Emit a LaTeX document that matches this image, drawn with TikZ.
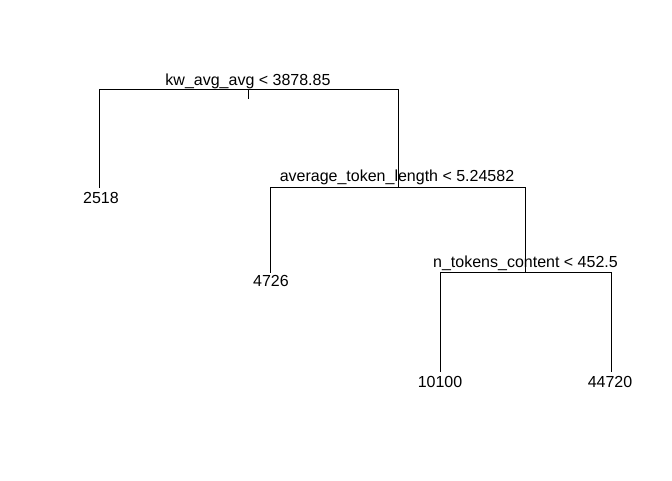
\documentclass[tikz,border=0pt]{standalone}
\usepackage{fontspec}
\setmainfont{Liberation Sans}
\begin{document}
\begin{tikzpicture}[x=0.75pt,y=-0.75pt,
  edge/.style={line width=0.75pt,line cap=rect},
  lab/.style={font=\fontsize{12}{14}\selectfont,anchor=base,inner sep=0pt}]
\useasboundingbox (0,0) rectangle (672,480);
% split points
\coordinate (r) at (248,89);
\coordinate (rtop) at (248,98);
\coordinate (rl) at (99,89);
\coordinate (rr) at (398,89);
\coordinate (a) at (398,187);
\coordinate (al) at (270,187);
\coordinate (ar) at (525,187);
\coordinate (b) at (525,272);
\coordinate (bl) at (440,272);
\coordinate (br) at (611,272);
\coordinate (l1) at (99,187);
\coordinate (l2) at (270,272);
\coordinate (l3) at (440,371);
\coordinate (l4) at (611,371);
% lines
\draw[edge] (rtop) -- (r);
\draw[edge] (l1) -- (rl) -- (rr) -- (a);
\draw[edge] (l2) -- (al) -- (ar) -- (b);
\draw[edge] (l3) -- (bl) -- (br) -- (l4);
% labels
\node[lab] (t1) at (248,85.5) {kw\_avg\_avg < 3878.85};
\node[lab] (t2) at (397,181.5) {average\_token\_length < 5.24582};
\node[lab] (t3) at (525.5,267) {n\_tokens\_content < 452.5};
\node[lab] (v1) at (101,203) {2518};
\node[lab] (v2) at (271,286.5) {4726};
\node[lab] (v3) at (440,387) {10100};
\node[lab] (v4) at (610,387) {44720};
\end{tikzpicture}
\end{document}
